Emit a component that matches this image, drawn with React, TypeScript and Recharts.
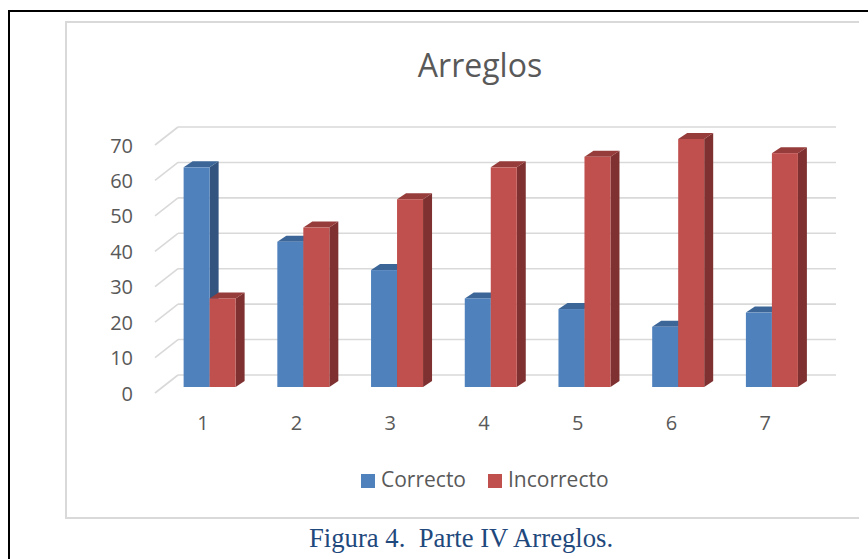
import React from 'react';
import { BarChart, Bar, XAxis, YAxis, CartesianGrid } from 'recharts';

const categories = ['1', '2', '3', '4', '5', '6', '7'];
const correcto = [62, 41, 33, 25, 22, 17, 21];
const incorrecto = [25, 45, 53, 62, 65, 70, 66];
const yTicks = [0, 10, 20, 30, 40, 50, 60, 70];
const seriesNames = ['Correcto', 'Incorrecto'];
const chartTitle = 'Arreglos';
const caption = 'Figura 4.  Parte IV Arreglos.';

const data = categories.map((c, i) => ({ cat: c, correcto: correcto[i], incorrecto: incorrecto[i] }));

const W = 868;
const H = 559;
const PLOT_LEFT = 163;
const PLOT_RIGHT = 819;
const PLOT_TOP = 139;
const PLOT_BOTTOM = 387;
const FONT = '"Open Sans", sans-serif';
const TEXT = '#595959';
const GRID = '#D9D9D9';

const COLORS = {
  blue: { front: '#4F81BD', side: '#32547E', top: '#3D6698' },
  red: { front: '#C0504D', side: '#7E3130', top: '#963C3A' },
};

const DX = 9;
const DY = 6;

const make3DBar = (c: { front: string; side: string; top: string }) => (props: any) => {
  const { x, y, width, height } = props;
  if (width == null || height == null || height <= 0) return <g />;
  const r = x + width;
  const b = y + height;
  return (
    <g>
      <polygon points={`${r},${y} ${r + DX},${y - DY} ${r + DX},${b - DY} ${r},${b}`} fill={c.side} />
      <polygon points={`${x},${y} ${x + DX},${y - DY} ${r + DX},${y - DY} ${r},${y}`} fill={c.top} />
      <rect x={x} y={y} width={width} height={height} fill={c.front} />
    </g>
  );
};

const gridLine = (props: any) => {
  const { x1, x2, y1, key } = props;
  const fx = x1 - 8;
  const fy = y1 + 6;
  const bx = x1 + 15;
  const by = y1 - 12;
  return (
    <g key={key}>
      <line x1={fx} y1={fy} x2={bx} y2={by} stroke={GRID} strokeWidth={1.6} />
      <line x1={bx} y1={by} x2={x2 + 17} y2={by} stroke={GRID} strokeWidth={1.6} />
    </g>
  );
};

const YTick = (props: any) => {
  const { y, payload } = props;
  return (
    <text x={PLOT_LEFT - 30} y={y + 6 + 7.5} textAnchor="end" fontFamily={FONT} fontSize={20} fill={TEXT}>
      {payload.value}
    </text>
  );
};

const XTick = (props: any) => {
  const { x, payload } = props;
  return (
    <text x={x - 7} y={PLOT_BOTTOM + 43} textAnchor="middle" fontFamily={FONT} fontSize={20} fill={TEXT}>
      {payload.value}
    </text>
  );
};

export default function App() {
  return (
    <div style={{ position: 'absolute', left: 0, top: 0, width: W, height: H, background: '#fff' }}>
      <svg width={W} height={H} style={{ position: 'absolute', left: 0, top: 0 }}>
        <line x1={8} y1={11} x2={W} y2={11} stroke="#000" strokeWidth={2} />
        <line x1={9} y1={10} x2={9} y2={H} stroke="#000" strokeWidth={2} />
        <line x1={66} y1={22} x2={859} y2={22} stroke={GRID} strokeWidth={2} />
        <line x1={66} y1={21} x2={66} y2={519} stroke={GRID} strokeWidth={2} />
        <line x1={65} y1={518} x2={859} y2={518} stroke={GRID} strokeWidth={2} />
        <text x={480} y={77} textAnchor="middle" fontFamily={FONT} fontSize={32} fill={TEXT}>
          {chartTitle}
        </text>
        <rect x={361} y={474} width={14} height={14} fill={COLORS.blue.front} />
        <text x={381} y={487} fontFamily={FONT} fontSize={21} fill={TEXT}>
          {seriesNames[0]}
        </text>
        <rect x={488} y={474} width={14} height={14} fill={COLORS.red.front} />
        <text x={508} y={487} fontFamily={FONT} fontSize={21} fill={TEXT}>
          {seriesNames[1]}
        </text>
        <text x={309} y={547} fontFamily='"Liberation Serif", serif' fontSize={26.7} fill="#1F497D" style={{ whiteSpace: 'pre' }}>
          {caption}
        </text>
      </svg>
      <div style={{ position: 'absolute', left: 0, top: 0 }}>
        <BarChart
          width={W}
          height={H}
          data={data}
          margin={{ top: PLOT_TOP, right: W - PLOT_RIGHT, bottom: H - PLOT_BOTTOM - 40, left: 0 }}
          barCategoryGap="22%"
          barGap={0}
        >
          <CartesianGrid vertical={false} horizontal={gridLine} />
          <XAxis dataKey="cat" axisLine={false} tickLine={false} height={40} tick={XTick} interval={0} />
          <YAxis
            width={PLOT_LEFT}
            domain={[0, 70]}
            ticks={yTicks}
            axisLine={false}
            tickLine={false}
            tick={YTick}
            interval={0}
          />
          <Bar dataKey="correcto" name={seriesNames[0]} fill={COLORS.blue.front} shape={make3DBar(COLORS.blue)} isAnimationActive={false} />
          <Bar dataKey="incorrecto" name={seriesNames[1]} fill={COLORS.red.front} shape={make3DBar(COLORS.red)} isAnimationActive={false} />
        </BarChart>
      </div>
    </div>
  );
}
